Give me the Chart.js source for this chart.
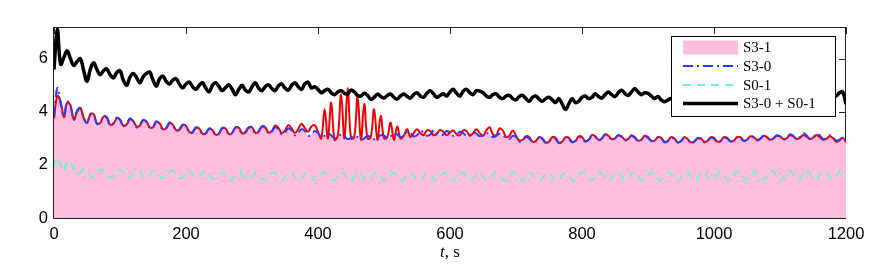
<!DOCTYPE html>
<html>
<head>
<meta charset="utf-8">
<script src="https://cdn.jsdelivr.net/npm/chart.js@4.4.1/dist/chart.umd.min.js"></script>
<style>
  html, body { margin: 0; padding: 0; background: #fff; }
  canvas { display: block; }
</style>
</head>
<body>
<canvas id="modeChart" width="872" height="271"></canvas>
<script>
// sample times, s (every 5 s from 0 to 1200)
const time = Array.from({ length: 241 }, (_, i) => i * 5);

const xTicks = [0, 200, 400, 600, 800, 1000, 1200];
const yTicks = [0, 2, 4, 6];

// S3-0 + S0-1 (black)
const sumLine = [
  5.6, 7.1, 5.8, 6.05, 6.3, 6.0, 5.75, 5.9, 6.0, 5.55, 5.15, 5.6, 5.85, 5.6, 5.4, 5.55, 5.62, 5.4, 5.28, 5.48,
  5.55, 5.2, 5.0, 5.3, 5.45, 5.3, 5.1, 5.32, 5.45, 5.5, 5.2, 4.97, 5.25, 5.35, 5.15, 5.05, 5.2, 5.25, 5.05, 4.9,
  5.05, 5.12, 4.95, 4.85, 5.0, 5.1, 4.9, 4.75, 5.0, 5.1, 4.95, 4.8, 4.92, 5.02, 4.85, 4.65, 4.85, 5.0, 4.82, 4.75,
  4.95, 5.1, 4.9, 4.8, 4.95, 5.02, 4.88, 4.8, 4.98, 5.05, 4.9, 4.82, 5.0, 5.1, 4.95, 4.85, 5.05, 5.12, 4.9, 4.95,
  4.85, 4.72, 4.8, 4.85, 4.72, 4.65, 4.75, 4.8, 4.7, 4.68, 4.82, 4.75, 4.62, 4.6, 4.7, 4.62, 4.47, 4.55, 4.67, 4.58,
  4.52, 4.62, 4.67, 4.55, 4.48, 4.6, 4.67, 4.58, 4.52, 4.65, 4.72, 4.6, 4.55, 4.7, 4.8, 4.68, 4.55, 4.62, 4.68, 4.6,
  4.75, 4.85, 4.7, 4.6, 4.78, 4.85, 4.72, 4.65, 4.8, 4.78, 4.72, 4.6, 4.55, 4.65, 4.68, 4.55, 4.5, 4.6, 4.62, 4.5,
  4.45, 4.58, 4.62, 4.5, 4.4, 4.55, 4.6, 4.48, 4.4, 4.5, 4.55, 4.45, 4.35, 4.5, 4.3, 4.09, 4.3, 4.5, 4.35, 4.4,
  4.55, 4.6, 4.5, 4.55, 4.68, 4.58, 4.52, 4.65, 4.75, 4.65, 4.58, 4.72, 4.82, 4.7, 4.62, 4.75, 4.88, 4.75, 4.65, 4.72,
  4.7, 4.6, 4.5, 4.58, 4.45, 4.38, 4.45, 4.5, 4.4, 4.38, 4.48, 4.55, 4.45, 4.4, 4.5, 4.58, 4.48, 4.42, 4.52, 4.6,
  4.5, 4.45, 4.55, 4.62, 4.52, 4.45, 4.55, 4.62, 4.5, 4.45, 4.55, 4.65, 4.55, 4.48, 4.58, 4.65, 4.55, 4.5, 4.6, 4.68,
  4.58, 4.5, 4.6, 4.7, 4.6, 4.52, 4.62, 4.72, 4.6, 4.5, 4.6, 4.7, 4.58, 4.5, 4.62, 4.72, 4.65, 4.6, 4.72, 4.75,
  4.3
];

// S3-0 (blue dash-dot), also the top of the pink area
const s30 = [
  3.8, 4.9, 4.3, 3.85, 4.4, 4.2, 3.7, 4.05, 4.15, 3.75, 3.6, 3.92, 3.9, 3.55, 3.6, 3.85, 3.78, 3.5, 3.58, 3.78,
  3.7, 3.45, 3.55, 3.75, 3.65, 3.42, 3.5, 3.7, 3.62, 3.4, 3.45, 3.65, 3.55, 3.32, 3.4, 3.6, 3.5, 3.3, 3.35, 3.52,
  3.45, 3.22, 3.25, 3.42, 3.35, 3.15, 3.2, 3.38, 3.3, 3.12, 3.2, 3.4, 3.35, 3.15, 3.22, 3.42, 3.38, 3.18, 3.25, 3.42,
  3.4, 3.2, 3.28, 3.45, 3.4, 3.2, 3.25, 3.42, 3.35, 3.15, 3.22, 3.38, 3.3, 3.12, 3.2, 3.35, 3.28, 3.1, 3.15, 3.28,
  3.2, 3.05, 3.1, 3.2, 3.12, 3.0, 3.05, 3.15, 3.08, 2.98, 3.02, 3.1, 3.05, 2.95, 3.0, 3.1, 3.05, 2.97, 3.02, 3.12,
  3.1, 3.0, 3.08, 3.2, 3.15, 3.05, 3.1, 3.25, 3.2, 3.08, 3.12, 3.28, 3.22, 3.1, 3.15, 3.3, 3.25, 3.12, 3.15, 3.28,
  3.22, 3.1, 3.15, 3.25, 3.2, 3.1, 3.12, 3.22, 3.18, 3.08, 3.12, 3.2, 3.15, 3.05, 3.1, 3.18, 3.12, 3.02, 2.98, 3.1,
  3.05, 2.88, 2.92, 3.05, 3.0, 2.85, 2.9, 3.05, 2.98, 2.82, 2.88, 3.02, 2.98, 2.82, 2.88, 3.02, 2.98, 2.85, 2.9, 3.05,
  3.0, 2.88, 2.95, 3.1, 3.05, 2.92, 3.0, 3.15, 3.08, 2.95, 3.0, 3.12, 3.05, 2.92, 2.98, 3.1, 3.02, 2.9, 2.95, 3.08,
  3.02, 2.9, 2.92, 3.05, 3.0, 2.85, 2.9, 3.02, 2.98, 2.85, 2.9, 3.02, 2.95, 2.82, 2.88, 3.0, 2.98, 2.85, 2.9, 3.02,
  2.98, 2.85, 2.9, 3.02, 3.0, 2.88, 2.92, 3.05, 3.02, 2.9, 2.95, 3.08, 3.05, 2.92, 2.98, 3.1, 3.05, 2.95, 3.0, 3.12,
  3.08, 2.95, 3.0, 3.15, 3.1, 2.98, 3.05, 3.2, 3.12, 2.98, 3.02, 3.18, 3.12, 2.98, 3.0, 3.12, 3.05, 2.92, 2.95, 3.05,
  2.9
];

// S3-1 trace (red)
const s31 = [
  3.75, 4.6, 4.4, 3.8, 4.35, 4.25, 3.72, 4.0, 4.15, 3.78, 3.58, 3.9, 3.92, 3.58, 3.58, 3.82, 3.8, 3.52, 3.55, 3.75,
  3.72, 3.48, 3.52, 3.72, 3.66, 3.45, 3.48, 3.68, 3.64, 3.42, 3.42, 3.62, 3.57, 3.35, 3.38, 3.57, 3.52, 3.32, 3.32, 3.5,
  3.47, 3.25, 3.22, 3.4, 3.37, 3.18, 3.18, 3.36, 3.32, 3.14, 3.18, 3.38, 3.37, 3.17, 3.2, 3.4, 3.4, 3.2, 3.22, 3.4,
  3.42, 3.22, 3.25, 3.45, 3.42, 3.22, 3.28, 3.48, 3.4, 3.2, 3.3, 3.5, 3.38, 3.2, 3.35, 3.55, 3.4, 3.25, 3.45, 3.5,
  3.25, 3.0, 4.1, 3.0, 4.35, 2.95, 3.1, 4.65, 3.0, 4.9, 3.0, 3.05, 4.55, 2.95, 4.3, 3.0, 3.05, 4.1, 2.95, 3.85,
  3.0, 3.05, 3.6, 2.95, 3.45, 3.0, 3.1, 3.35, 3.05, 3.2, 3.35, 3.2, 3.12, 3.3, 3.28, 3.12, 3.18, 3.32, 3.25, 3.12,
  3.22, 3.3, 3.15, 3.12, 3.3, 3.28, 3.1, 3.2, 3.35, 3.2, 3.1, 3.3, 3.42, 3.15, 3.12, 3.38, 3.3, 3.05, 3.1, 3.3,
  3.1, 2.92, 2.95, 3.08, 3.05, 2.88, 2.9, 3.05, 3.0, 2.85, 2.88, 3.05, 3.02, 2.85, 2.88, 3.05, 3.02, 2.88, 2.9, 3.08,
  3.05, 2.9, 2.95, 3.12, 3.08, 2.95, 3.0, 3.15, 3.1, 2.98, 3.0, 3.12, 3.08, 2.95, 2.98, 3.12, 3.05, 2.92, 2.95, 3.1,
  3.05, 2.92, 2.92, 3.05, 3.02, 2.88, 2.9, 3.05, 3.0, 2.85, 2.9, 3.05, 2.98, 2.85, 2.88, 3.02, 3.0, 2.88, 2.9, 3.05,
  3.02, 2.88, 2.9, 3.05, 3.02, 2.9, 2.92, 3.05, 3.05, 2.92, 2.95, 3.08, 3.05, 2.95, 2.98, 3.1, 3.05, 2.95, 3.0, 3.1,
  3.08, 2.98, 3.0, 3.12, 3.08, 2.98, 3.02, 3.12, 3.08, 2.98, 3.02, 3.12, 3.05, 2.95, 2.98, 3.08, 3.02, 2.88, 2.92, 3.02,
  2.85
];

// S0-1 (aquamarine dashed)
const s01 = [
  1.95, 2.3, 2.0, 1.75, 2.15, 2.1, 1.85, 1.65, 1.72, 1.85, 1.78, 1.58, 1.55, 1.72, 1.82, 1.78, 1.62, 1.52, 1.6, 1.78,
  1.82, 1.72, 1.55, 1.52, 1.68, 1.8, 1.75, 1.58, 1.5, 1.62, 1.78, 1.75, 1.6, 1.5, 1.58, 1.75, 1.78, 1.62, 1.5, 1.55,
  1.72, 1.78, 1.65, 1.5, 1.52, 1.7, 1.76, 1.62, 1.48, 1.5, 1.66, 1.74, 1.62, 1.48, 1.45, 1.6, 1.72, 1.65, 1.5, 1.45,
  1.58, 1.7, 1.65, 1.5, 1.42, 1.55, 1.7, 1.68, 1.52, 1.42, 1.52, 1.68, 1.7, 1.55, 1.42, 1.48, 1.65, 1.72, 1.58, 1.45,
  1.45, 1.62, 1.72, 1.6, 1.45, 1.42, 1.58, 1.72, 1.65, 1.48, 1.4, 1.55, 1.7, 1.68, 1.52, 1.4, 1.5, 1.68, 1.7, 1.55,
  1.42, 1.48, 1.65, 1.7, 1.58, 1.42, 1.45, 1.62, 1.7, 1.6, 1.45, 1.42, 1.58, 1.7, 1.65, 1.48, 1.4, 1.55, 1.7, 1.66,
  1.5, 1.4, 1.52, 1.68, 1.7, 1.55, 1.42, 1.48, 1.65, 1.7, 1.58, 1.42, 1.45, 1.62, 1.72, 1.62, 1.45, 1.4, 1.58, 1.72,
  1.65, 1.48, 1.4, 1.55, 1.7, 1.66, 1.5, 1.4, 1.5, 1.66, 1.7, 1.55, 1.4, 1.45, 1.62, 1.7, 1.6, 1.42, 1.42, 1.6,
  1.72, 1.65, 1.48, 1.42, 1.56, 1.72, 1.68, 1.5, 1.42, 1.52, 1.7, 1.72, 1.55, 1.42, 1.48, 1.66, 1.74, 1.6, 1.44, 1.45,
  1.62, 1.74, 1.64, 1.46, 1.42, 1.58, 1.74, 1.68, 1.5, 1.42, 1.55, 1.72, 1.72, 1.55, 1.42, 1.5, 1.7, 1.75, 1.58, 1.42,
  1.46, 1.66, 1.76, 1.64, 1.46, 1.44, 1.62, 1.76, 1.68, 1.5, 1.42, 1.58, 1.76, 1.72, 1.54, 1.42, 1.54, 1.74, 1.76, 1.58,
  1.42, 1.5, 1.7, 1.78, 1.62, 1.44, 1.46, 1.66, 1.78, 1.68, 1.5, 1.42, 1.6, 1.76, 1.72, 1.55, 1.44, 1.56, 1.74, 1.72,
  1.55
];

const pts = vals => time.map((t, i) => ({ x: t, y: vals[i] }));

const PINK = 'rgb(255,190,222)';
const RED = 'rgb(245,0,0)';
const BLUE = 'rgb(40,60,255)';
const AQUA = 'rgb(115,240,210)';

// axes box with inward ticks (drawn under the data, the pink area covers it like in the original)
const framePlugin = {
  id: 'frame',
  beforeDatasetsDraw(chart) {
    const { ctx, chartArea: a, scales } = chart;
    ctx.save();
    ctx.strokeStyle = '#222';
    ctx.lineWidth = 1;
    ctx.strokeRect(a.left - 0.5, a.top + 0.5, a.right - a.left, a.bottom - a.top);
    ctx.beginPath();
    xTicks.forEach(v => {
      const x = Math.round(scales.x.getPixelForValue(v)) + 0.5;
      ctx.moveTo(x, a.top); ctx.lineTo(x, a.top + 7);
    });
    yTicks.forEach(v => {
      const y = Math.round(scales.y.getPixelForValue(v)) + 0.5;
      ctx.moveTo(a.right, y); ctx.lineTo(a.right - 7, y);
    });
    ctx.stroke();
    ctx.restore();
  },
  afterDraw(chart) {
    const { ctx, chartArea: a } = chart;
    ctx.save();
    // x axis title "t, s"
    ctx.fillStyle = '#000';
    ctx.textBaseline = 'alphabetic';
    const cx = (a.left + a.right) / 2;
    ctx.font = 'italic 17px "Liberation Serif"';
    const w1 = ctx.measureText('t').width;
    ctx.font = '17px "Liberation Serif"';
    const w2 = ctx.measureText(', s').width;
    const x0 = cx - (w1 + w2) / 2;
    ctx.font = 'italic 17px "Liberation Serif"';
    ctx.fillText('t', x0, 257);
    ctx.font = '17px "Liberation Serif"';
    ctx.fillText(', s', x0 + w1, 257);

    // legend box, top right inside the axes
    const bx = 671.5, by = 36.5, bw = 164, bh = 80;
    ctx.fillStyle = '#fff';
    ctx.fillRect(bx, by, bw, bh);
    ctx.strokeStyle = '#000';
    ctx.lineWidth = 1;
    ctx.strokeRect(bx, by, bw, bh);
    const items = chart.data.datasets.filter(d => d.inLegend);
    const rowY = [47.5, 66, 85, 103.5];
    items.forEach((d, i) => {
      const y = rowY[i];
      if (d.fill) {
        ctx.fillStyle = d.backgroundColor;
        ctx.fillRect(683, y - 7, 55, 14);
      } else {
        ctx.beginPath();
        ctx.setLineDash(d.borderDash || []);
        ctx.strokeStyle = d.borderColor;
        ctx.lineWidth = d.borderWidth;
        ctx.moveTo(683, y);
        ctx.lineTo(738, y);
        ctx.stroke();
        ctx.setLineDash([]);
      }
      ctx.fillStyle = '#000';
      ctx.font = '15px "Liberation Serif"';
      ctx.textBaseline = 'middle';
      ctx.fillText(d.label, 743, y + 1);
    });
    ctx.restore();
  }
};

const tickFont = { family: '"Liberation Sans", Arial, sans-serif', size: 16.5 };

new Chart(document.getElementById('modeChart'), {
  type: 'line',
  data: {
    datasets: [
      { label: 'S3-1', data: pts(s30), inLegend: true, fill: 'origin', backgroundColor: PINK,
        borderWidth: 0, borderColor: 'rgba(0,0,0,0)', order: 5 },
      { label: 'S3-1 trace', data: pts(s31), borderColor: RED, borderWidth: 2, order: 4 },
      { label: 'S3-0', data: pts(s30), inLegend: true, borderColor: BLUE, borderWidth: 2,
        borderDash: [10, 4, 2, 4], order: 3 },
      { label: 'S0-1', data: pts(s01), inLegend: true, borderColor: AQUA, borderWidth: 2,
        borderDash: [8, 6], order: 2 },
      { label: 'S3-0 + S0-1', data: pts(sumLine), inLegend: true, borderColor: '#000', borderWidth: 3.5, order: 1 }
    ]
  },
  options: {
    responsive: false,
    animation: false,
    devicePixelRatio: 1,
    layout: { padding: { left: 0, right: 26, top: 27, bottom: 0 } },
    elements: { point: { radius: 0 }, line: { tension: 0.4 } },
    plugins: { legend: { display: false }, tooltip: { enabled: false } },
    scales: {
      x: {
        type: 'linear', min: 0, max: 1200,
        afterBuildTicks: s => { s.ticks = xTicks.map(v => ({ value: v })); },
        afterFit: s => { s.height = 53; },
        grid: { display: false, drawTicks: false },
        border: { display: false },
        ticks: { color: '#000', font: tickFont, padding: 7, maxRotation: 0, callback: v => String(v) }
      },
      y: {
        min: 0, max: 7.2,
        afterBuildTicks: s => { s.ticks = yTicks.map(v => ({ value: v })); },
        afterFit: s => { s.width = 54; },
        grid: { display: false, drawTicks: false },
        border: { display: false },
        ticks: { color: '#000', font: tickFont, padding: 6, callback: v => String(v) }
      }
    }
  },
  plugins: [framePlugin]
});
</script>
</body>
</html>
